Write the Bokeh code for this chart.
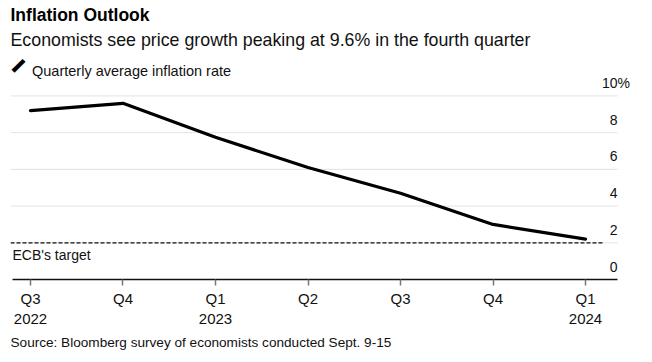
from bokeh.plotting import figure
from bokeh.models import Range1d, FixedTicker, Title, Label, LabelSet, ColumnDataSource
from bokeh.core.properties import value
from bokeh.embed import file_html
from bokeh.resources import INLINE

# ---- data ----
quarters = ["Q3\n2022", "Q4", "Q1\n2023", "Q2", "Q3", "Q4", "Q1\n2024"]
inflation = [9.2, 9.6, 7.75, 6.1, 4.7, 3.0, 2.2]
y_ticks = [0, 2, 4, 6, 8, 10]
y_tick_labels = ["0", "2", "4", "6", "8", "10"]
ecb_target = 2.0

FONT = "Liberation Sans"
TXT = "#111111"
x_idx = list(range(len(quarters)))

x_start, x_end = -0.216, 6.486      # frame extent (index units)
x_grid_end = 6.346                  # where grid lines / axis stop
y_end = 12.53

p = figure(width=652, height=358, output_backend="svg", toolbar_location=None,
           title=None, y_axis_location=None,
           x_range=Range1d(x_start, x_end), y_range=Range1d(0, y_end),
           min_border_left=10, min_border_right=22, min_border_top=10,
           min_border_bottom=10)
p.outline_line_color = None
p.xgrid.visible = False
p.ygrid.visible = False

# grid lines (stop before the right-hand labels)
gl = y_ticks[1:]
p.segment(x0=[x_start] * len(gl), x1=[x_grid_end] * len(gl), y0=gl, y1=gl,
          line_color="#e3e3e3", line_width=1)

# x axis
ax = p.xaxis[0]
ax.bounds = (x_start + 0.02, x_grid_end)
ax.ticker = FixedTicker(ticks=x_idx)
ax.major_label_overrides = {i: q for i, q in zip(x_idx, quarters)}
ax.major_label_text_font = FONT
ax.major_label_text_font_size = "15px"
ax.major_label_text_color = TXT
ax.major_label_standoff = 4
ax.axis_line_color = "#111111"
ax.axis_line_width = 1.5
ax.major_tick_out = 6
ax.major_tick_in = 0
ax.major_tick_line_color = "#777777"
ax.major_tick_line_width = 1.5
ax.minor_tick_line_color = None

# ECB target dashed line
p.segment(x0=[x_start], x1=[x_idx[-1] + 0.19], y0=[ecb_target], y1=[ecb_target],
          line_color="#111111", line_width=1.3, line_dash="4 2")

# main series
p.line(x=x_idx, y=inflation, line_color="black", line_width=3.2,
       line_join="round", line_cap="round")

# y labels (inside the plot, right side, above grid lines)
ysrc = ColumnDataSource(dict(x=[x_grid_end] * len(y_ticks), y=y_ticks, t=y_tick_labels))
p.add_layout(LabelSet(x="x", y="y", text="t", source=ysrc, text_align="right",
                      text_baseline="alphabetic", y_offset=8, text_font=value(FONT),
                      text_font_size="14px", text_color=TXT))
psrc = ColumnDataSource(dict(x=[x_grid_end], y=[y_ticks[-1]], t=["%"]))
p.add_layout(LabelSet(x="x", y="y", text="t", source=psrc, text_align="left",
                      text_baseline="alphabetic", y_offset=8, text_font=value(FONT),
                      text_font_size="14px", text_color=TXT))

p.add_layout(Label(x=x_start, y=ecb_target, text="ECB's target", text_align="left",
                   text_baseline="top", x_offset=2, y_offset=-4, text_font=FONT,
                   text_font_size="14px", text_color=TXT))

# legend row (inside the frame's top band)
p.add_layout(Label(x=x_start, y=y_end, text="Quarterly average inflation rate",
                   text_align="left", text_baseline="alphabetic", x_offset=21.5,
                   y_offset=-21.5, text_font=FONT, text_font_size="14.5px", text_color=TXT))
p.add_layout(Label(x=x_start, y=y_end, text="\u2501", text_align="center",
                   text_baseline="middle", x_offset=8, y_offset=-16.5, angle=0.785,
                   text_font="DejaVu Sans", text_font_size="25px", text_color="black"))

# titles (added bottom-up)
p.add_layout(Title(text="Economists see price growth peaking at 9.6% in the fourth quarter",
                   align="left", text_font=FONT, text_font_size="17.8px",
                   text_font_style="normal", text_color=TXT, standoff=0), "above")
p.add_layout(Title(text="Inflation Outlook", align="left", text_font=FONT,
                   text_font_size="17.5px", text_font_style="bold",
                   text_color="#000000", standoff=4.5), "above")
p.add_layout(Title(text="Source: Bloomberg survey of economists conducted Sept. 9-15",
                   align="left", text_font=FONT, text_font_size="13.6px",
                   text_font_style="normal", text_color=TXT, standoff=11.5,
                   vertical_align="top"), "below")

open("out.html", "w").write(file_html(p, INLINE))
